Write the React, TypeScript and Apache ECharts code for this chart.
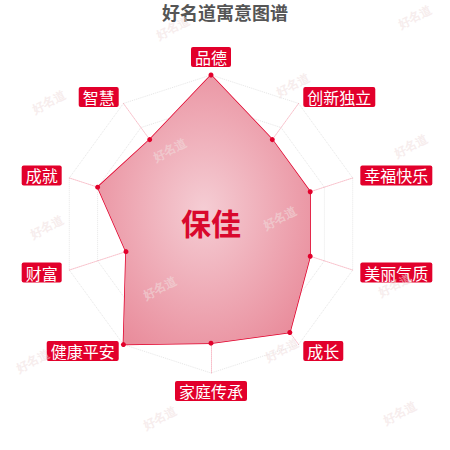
import { useEffect, useRef } from "react";
import * as echarts from "echarts";

// indicators in echarts' (counter-clockwise) order, starting at the top
const indicatorNames = ["品德", "智慧", "成就", "财富", "健康平安", "家庭传承", "成长", "美丽气质", "幸福快乐", "创新独立"];
const indicatorMax = [100, 100, 100, 100, 100, 100, 100, 100, 100, 100];
const scores = [100, 70, 80, 60, 100, 80, 90, 70, 70, 70];

const titleText = "好名道寓意图谱";
const nameText = "保佳";
const watermarkText = "好名道";

// watermark spots, staggered grid
const watermarkSpots = [
  [173, 28], [415, 17],
  [49, 102], [293, 85],
  [170, 150], [411, 146],
  [47, 227], [280, 218],
  [160, 288], [395, 285],
  [33, 361], [282, 350],
  [160, 418], [400, 413],
];

const RED = "#e2002b";
const FONT = "'Noto Sans CJK SC', 'Noto Sans', sans-serif";

export default function App() {
  const chartRef = useRef<HTMLDivElement>(null);

  useEffect(() => {
    if (!chartRef.current) return;
    const chart = echarts.init(chartRef.current, undefined, { renderer: "svg" });

    const watermarks = watermarkSpots.map(([x, y]) => ({
      type: "text",
      x,
      y,
      rotation: (27 * Math.PI) / 180,
      z: 100,
      silent: true,
      style: {
        text: watermarkText,
        fontSize: 12,
        fontWeight: "bold",
        fontFamily: "serif",
        fill: "rgba(240,222,222,0.55)",
        textAlign: "center",
        textVerticalAlign: "middle",
      },
    }));

    chart.setOption({
      animation: false,
      backgroundColor: "#fff",
      title: {
        text: titleText,
        left: "center",
        top: -2,
        textStyle: { fontSize: 18, fontWeight: "bold", color: "#555", fontFamily: FONT },
      },
      radar: {
        center: [211, 224],
        radius: 149,
        startAngle: 90,
        splitNumber: 5,
        shape: "polygon",
        nameGap: 8,
        indicator: indicatorNames.map((name, i) => ({ name, max: indicatorMax[i] })),
        axisName: {
          color: "#fff",
          backgroundColor: RED,
          borderRadius: 2,
          padding: [2, 4],
          fontSize: 16,
          fontFamily: FONT,
        },
        splitLine: { lineStyle: { color: "#e6e6e6", type: "dotted", width: 1 } },
        splitArea: { show: false },
        axisLine: { lineStyle: { color: "rgba(226,0,43,0.25)", type: "dotted", width: 1 } },
      },
      series: [
        {
          type: "radar",
          symbol: "circle",
          symbolSize: 5,
          itemStyle: { color: RED },
          lineStyle: { color: RED, width: 1.5 },
          areaStyle: {
            opacity: 1,
            color: new echarts.graphic.RadialGradient(0.5, 0.5, 0.6, [
              { offset: 0, color: "#f5cdd4" },
              { offset: 1, color: "#e98d9c" },
            ]),
          },
          data: [{ value: scores, name: nameText }],
        },
      ],
      graphic: [
        {
          type: "text",
          x: 211,
          y: 222,
          z: 50,
          style: {
            text: nameText,
            fontSize: 30,
            fontWeight: "bold",
            fontFamily: FONT,
            fill: "#d9082d",
            textAlign: "center",
            textVerticalAlign: "middle",
          },
        },
        ...watermarks,
      ],
    });

    return () => {
      chart.dispose();
    };
  }, []);

  return (
    <div
      ref={chartRef}
      style={{ position: "absolute", left: 0, top: 0, width: "450px", height: "450px" }}
    />
  );
}
